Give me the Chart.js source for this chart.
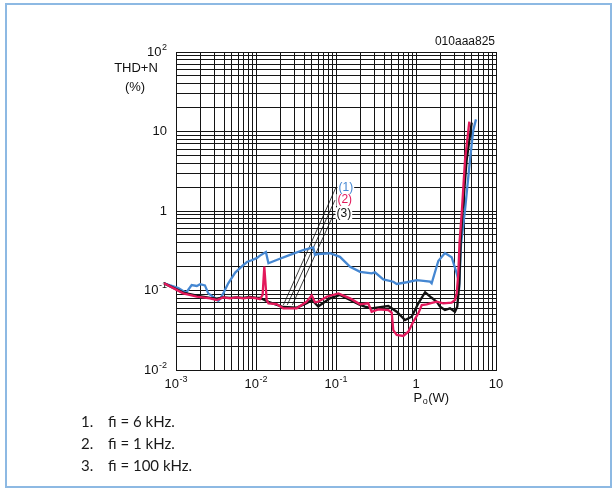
<!DOCTYPE html>
<html>
<head>
<meta charset="utf-8">
<script src="https://cdn.jsdelivr.net/npm/chart.js@4"></script>
<style>
  html, body { margin: 0; padding: 0; background: #fff; }
  #wrap { position: relative; width: 613px; height: 489px; }
  canvas { display: block; }
</style>
</head>
<body>
<div id="wrap"><canvas id="c" width="613" height="489"></canvas></div>
<script>
// Output power Po (W) and THD+N (%) for three input frequencies
const curve1X = [0.00071, 0.00107, 0.0013, 0.00136, 0.00157, 0.00182, 0.002, 0.0023, 0.00253, 0.00307, 0.00338, 0.00355, 0.0039, 0.0045, 0.0055, 0.0066, 0.0077, 0.0088, 0.0102, 0.0112, 0.0133, 0.0143, 0.0181, 0.0266, 0.039, 0.052, 0.0546, 0.06, 0.084, 0.112, 0.15, 0.2, 0.279, 0.307, 0.39, 0.52, 0.574, 0.766, 1.02, 1.5, 1.57, 1.9, 2.3, 2.79, 3.23, 3.48, 3.65, 4.1, 4.73, 5.2, 5.62];
const curve1Y = [0.123, 0.107, 0.095, 0.096, 0.117, 0.114, 0.12, 0.116, 0.092, 0.08, 0.074, 0.078, 0.092, 0.123, 0.168, 0.2, 0.228, 0.24, 0.255, 0.275, 0.305, 0.22, 0.242, 0.28, 0.323, 0.349, 0.28, 0.288, 0.294, 0.265, 0.199, 0.172, 0.164, 0.169, 0.138, 0.129, 0.121, 0.127, 0.135, 0.129, 0.123, 0.235, 0.297, 0.262, 0.164, 0.123, 0.38, 1.03, 4.38, 10.4, 14.2];

const curve2X = [0.00071, 0.00123, 0.00182, 0.00266, 0.00323, 0.0039, 0.00473, 0.00574, 0.0069, 0.0084, 0.0102, 0.0112, 0.0121, 0.0127, 0.0136, 0.0143, 0.0181, 0.0219, 0.0323, 0.043, 0.0497, 0.0546, 0.06, 0.0766, 0.107, 0.15, 0.2, 0.253, 0.279, 0.338, 0.451, 0.497, 0.52, 0.574, 0.694, 0.801, 0.925, 1.07, 1.18, 1.36, 1.5, 1.81, 2.19, 2.79, 3.07, 3.23, 3.38, 3.5, 3.75, 4.1, 4.64];
const curve2Y = [0.123, 0.092, 0.0835, 0.0797, 0.076, 0.0817, 0.0797, 0.0817, 0.0797, 0.0817, 0.0797, 0.078, 0.088, 0.2, 0.076, 0.069, 0.0676, 0.0597, 0.0597, 0.0723, 0.087, 0.071, 0.0723, 0.0835, 0.092, 0.0797, 0.067, 0.069, 0.0541, 0.0579, 0.0568, 0.0526, 0.0318, 0.0276, 0.0268, 0.0303, 0.0405, 0.0516, 0.0657, 0.067, 0.069, 0.0723, 0.069, 0.0703, 0.076, 0.092, 0.164, 0.4, 1.03, 4.38, 13.3];

const curve3X = [0.00071, 0.00123, 0.00182, 0.00266, 0.00323, 0.0039, 0.00473, 0.00574, 0.0069, 0.0084, 0.0102, 0.0112, 0.0143, 0.0219, 0.0323, 0.043, 0.05, 0.06, 0.084, 0.112, 0.15, 0.2, 0.23, 0.279, 0.451, 0.574, 0.729, 0.883, 1.07, 1.3, 1.57, 1.81, 2.0, 2.3, 2.66, 3.07, 3.28, 3.48, 3.62, 3.83, 4.3, 4.97];
const curve3Y = [0.123, 0.094, 0.086, 0.081, 0.079, 0.082, 0.081, 0.082, 0.081, 0.083, 0.081, 0.081, 0.072, 0.062, 0.061, 0.069, 0.076, 0.063, 0.0797, 0.0878, 0.076, 0.0657, 0.0626, 0.0597, 0.0638, 0.0541, 0.0425, 0.0468, 0.069, 0.095, 0.081, 0.0723, 0.0626, 0.0568, 0.0597, 0.0541, 0.0626, 0.123, 0.43, 1.03, 4.38, 12.9];

// Leader lines from the curve labels down to the low-power region
const leaderLabels = ['(1)', '(2)', '(3)'];
const leaderX = [[0.022, 0.1], [0.0246, 0.097], [0.0285, 0.0946]];
const leaderY = [[0.0658, 1.99], [0.0658, 1.37], [0.0658, 0.935]];

// Decade labels on both axes: [value, mantissa, exponent]
const xDecades = [[1e-3, '10', '-3'], [1e-2, '10', '-2'], [1e-1, '10', '-1'], [1, '1', ''], [10, '10', '']];
const yDecades = [[1e-2, '10', '-2'], [1e-1, '10', '-1'], [1, '1', ''], [10, '10', ''], [100, '10', '2']];

const footnotes = ['fi = 6 kHz.', 'fi = 1 kHz.', 'fi = 100 kHz.'];

const COL1 = '#4587d2';
const COL2 = '#e3185b';
const COL3 = '#111111';
const GRID = '#141414';

function pts(xs, ys) { return xs.map((x, i) => ({ x: x, y: ys[i] })); }

function logTicks(minExp, maxExp) {
  const out = [];
  for (let e = minExp; e < maxExp; e++) {
    for (let m = 1; m <= 9; m++) out.push({ value: m * Math.pow(10, e) });
  }
  out.push({ value: Math.pow(10, maxExp) });
  return out;
}

const lineBase = { showLine: true, pointRadius: 0, borderWidth: 2.3, tension: 0, clip: false, fill: false };

const datasets = [
  Object.assign({}, lineBase, { label: 'fi = 1 kHz', data: pts(curve2X, curve2Y), borderColor: COL2, order: 0 }),
  Object.assign({}, lineBase, { label: 'fi = 100 kHz', data: pts(curve3X, curve3Y), borderColor: COL3, order: 1 }),
  Object.assign({}, lineBase, { label: 'fi = 6 kHz', data: pts(curve1X, curve1Y), borderColor: COL1, order: 2 })
];
leaderX.forEach((xs, i) => {
  datasets.push(Object.assign({}, lineBase, { label: 'leader' + (i + 1), data: pts(xs, leaderY[i]), borderColor: '#111', borderWidth: 0.8, order: 3 }));
});

const FONT = 'Arial, "Liberation Sans", sans-serif';

function drawPower(ctx, base, exp, x, y, align) {
  ctx.font = '13px ' + FONT;
  const wb = ctx.measureText(base).width;
  ctx.font = '9px ' + FONT;
  const we = exp ? ctx.measureText(exp).width + 0.5 : 0;
  const w = wb + we;
  let left = x;
  if (align === 'right') left = x - w;
  else if (align === 'center') left = x - w / 2;
  ctx.textAlign = 'left';
  ctx.textBaseline = 'middle';
  ctx.font = '13px ' + FONT;
  ctx.fillText(base, left, y);
  if (exp) {
    ctx.font = '9px ' + FONT;
    ctx.fillText(exp, left + wb + 0.5, y - 4.5);
  }
}

const decor = {
  id: 'decor',
  beforeDraw(chart) {
    const ctx = chart.ctx;
    ctx.save();
    ctx.fillStyle = '#fff';
    ctx.fillRect(0, 0, chart.width, chart.height);
    ctx.strokeStyle = '#8db9e3';
    ctx.lineWidth = 2;
    ctx.strokeRect(6, 4, 605, 483);
    ctx.restore();
  },
  beforeDatasetsDraw(chart) {
    const ctx = chart.ctx;
    const xs = chart.scales.x, ys = chart.scales.y;
    ctx.save();
    ctx.fillStyle = '#111';
    yDecades.forEach(d => drawPower(ctx, d[1], d[2], 167, ys.getPixelForValue(d[0]), 'right'));
    xDecades.forEach(d => drawPower(ctx, d[1], d[2], xs.getPixelForValue(d[0]), 384, 'center'));
    ctx.restore();
  },
  afterDatasetsDraw(chart) {
    const ctx = chart.ctx;
    const xs = chart.scales.x, ys = chart.scales.y;
    ctx.save();
    ctx.textBaseline = 'middle';
    ctx.textAlign = 'left';
    // curve labels at the top of each leader line
    const labelCols = [COL1, COL2, COL3];
    ctx.font = '12px ' + FONT;
    leaderLabels.forEach((t, i) => {
      const px = xs.getPixelForValue(leaderX[i][1]) + 1.5;
      const py = ys.getPixelForValue(leaderY[i][1]);
      const w = ctx.measureText(t).width;
      ctx.fillStyle = '#fff';
      ctx.fillRect(px, py - 6, w + 2, 12);
      ctx.fillStyle = labelCols[i];
      ctx.fillText(t, px + 1, py);
    });
    // axis titles
    ctx.fillStyle = '#111';
    ctx.font = '13px ' + FONT;
    ctx.textAlign = 'center';
    ctx.fillText('THD+N', 136, 68);
    ctx.fillText('(%)', 135, 87);
    ctx.textAlign = 'left';
    const p0 = 413.5;
    ctx.fillText('P', p0, 398);
    const wP = ctx.measureText('P').width;
    ctx.font = '9px ' + FONT;
    ctx.fillText('o', p0 + wP + 0.5, 402);
    const wo = ctx.measureText('o').width;
    ctx.font = '13px ' + FONT;
    ctx.fillText('(W)', p0 + wP + wo + 1, 398);
    // drawing code
    ctx.font = '12px ' + FONT;
    ctx.textAlign = 'right';
    ctx.fillText('010aaa825', 495, 42);
    // notes
    ctx.font = '15px Lato, "Open Sans", sans-serif';
    ctx.textAlign = 'left';
    ctx.fillStyle = '#1a1a1a';
    footnotes.forEach((t, i) => {
      const y = 422 + i * 22;
      ctx.fillText((i + 1) + '.', 81, y);
      ctx.fillText(t, 108, y);
    });
    ctx.restore();
  }
};

new Chart(document.getElementById('c'), {
  type: 'scatter',
  data: { datasets: datasets },
  options: {
    responsive: false,
    animation: false,
    events: [],
    layout: { padding: { left: 176, right: 117, top: 52, bottom: 119 } },
    plugins: { legend: { display: false }, tooltip: { enabled: false } },
    scales: {
      x: {
        type: 'logarithmic', min: 1e-3, max: 10,
        afterBuildTicks: s => { s.ticks = logTicks(-3, 1); },
        ticks: { display: false, autoSkip: false },
        grid: { color: GRID, lineWidth: 1, drawTicks: false },
        border: { display: true, color: GRID, width: 1 }
      },
      y: {
        type: 'logarithmic', min: 1e-2, max: 100,
        afterBuildTicks: s => { s.ticks = logTicks(-2, 2); },
        ticks: { display: false, autoSkip: false },
        grid: { color: GRID, lineWidth: 1, drawTicks: false },
        border: { display: true, color: GRID, width: 1 }
      }
    }
  },
  plugins: [decor]
});
</script>
</body>
</html>
